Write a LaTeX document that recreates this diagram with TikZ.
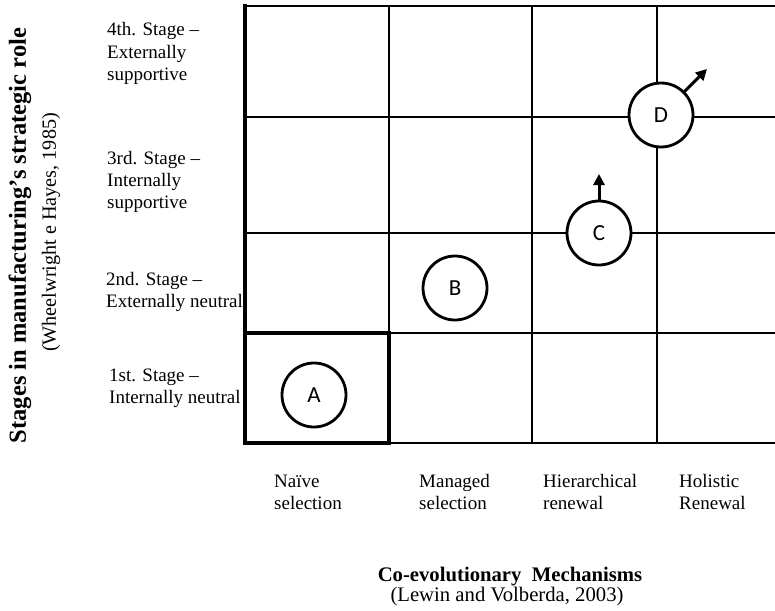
\documentclass[tikz,border=0pt]{standalone}
\usepackage{fontspec}
\setmainfont{Liberation Serif}
\newfontfamily\lettersans{Carlito}
\usetikzlibrary{arrows.meta}
\begin{document}
\begin{tikzpicture}[x=1pt,y=-1pt,
  gridline/.style={line width=2.8pt, line cap=rect},
  heavyline/.style={line width=3.8pt, line cap=rect},
  txt/.style={anchor=base west, inner sep=0pt, font=\fontsize{19}{22}\selectfont},
  ctxt/.style={anchor=base, inner sep=0pt, font=\fontsize{20.7}{24}\selectfont},
  stagecircle/.style={circle, draw, line width=2.8pt, fill=white, minimum size=64pt,
    inner sep=0pt, outer sep=0pt, font=\lettersans\fontsize{23}{25}\selectfont},
  movearrow/.style={line width=3pt, -{Triangle[length=11pt,width=11pt]}}
]
\useasboundingbox (0,0) rectangle (775,610);

% grid of stages (rows) against mechanisms (columns)
\draw[gridline] (245,6) -- (775,6);
\draw[gridline] (245,117) -- (775,117);
\draw[gridline] (245,233) -- (775,233);
\draw[gridline] (245,333) -- (775,333);
\draw[gridline] (389,443) -- (775,443);
\draw[gridline] (389,6) -- (389,333);
\draw[gridline] (532,6) -- (532,443);
\draw[gridline] (657,6) -- (657,443);
\draw[heavyline] (245,6) -- (245,443);
\draw[heavyline] (245,333) rectangle (389,443);

% positions
\node[stagecircle] (A) at (314,395) {A};
\node[stagecircle] (B) at (455,288) {B};
\node[stagecircle] (C) at (599,233) {C};
\node[stagecircle] (D) at (661,115) {D};

% movement arrows
\coordinate (ctip) at (599,174);
\coordinate (dtip) at (707,69);
\draw[movearrow] (C.north) -- (ctip);
\draw[movearrow] (D.45) -- (dtip);

% stage labels
\node[txt] (s4a) at (107,36) {4th. Stage –};
\node[txt] (s4b) at (107,58) {Externally};
\node[txt] (s4c) at (107,80) {supportive};
\node[txt] (s3a) at (107,164) {3rd. Stage –};
\node[txt] (s3b) at (107,186) {Internally};
\node[txt] (s3c) at (107,208) {supportive};
\node[txt] (s2a) at (106,285) {2nd. Stage –};
\node[txt] (s2b) at (106,307) {Externally neutral};
\node[txt] (s1a) at (109,381) {1st. Stage –};
\node[txt] (s1b) at (109,403) {Internally neutral};

% vertical axis title
\node[rotate=90, inner sep=0pt, font=\bfseries\fontsize{24.5}{28}\selectfont] (ytitle) at (20,235.5)
  {Stages in manufacturing’s strategic role};
\node[rotate=90, inner sep=0pt, font=\fontsize{20.2}{24}\selectfont] (ysource) at (51,232.5)
  {(Wheelwright e Hayes, 1985)};

% mechanism labels
\node[txt] (m1a) at (274,487) {Naïve};
\node[txt] (m1b) at (274,509) {selection};
\node[txt] (m2a) at (419,487) {Managed};
\node[txt] (m2b) at (419,509) {selection};
\node[txt] (m3a) at (543,487) {Hierarchical};
\node[txt] (m3b) at (543,509) {renewal};
\node[txt] (m4a) at (679,487) {Holistic};
\node[txt] (m4b) at (679,509) {Renewal};

% horizontal axis title
\node[ctxt, font=\bfseries\fontsize{20.7}{24}\selectfont] (xtitle) at (510,581)
  {Co-evolutionary\ \ Mechanisms};
\node[ctxt] (xsource) at (507,601)
  {(Lewin and Volberda, 2003)};
\end{tikzpicture}
\end{document}
